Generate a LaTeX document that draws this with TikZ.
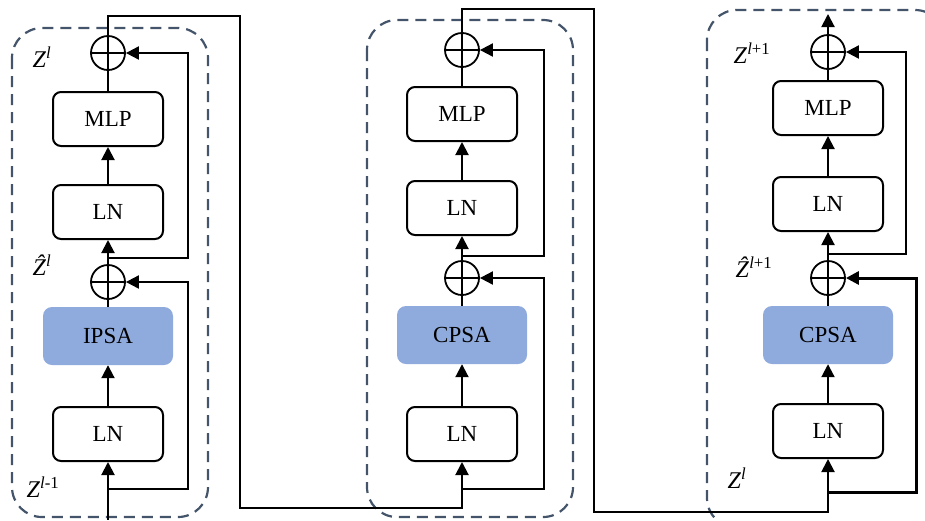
\documentclass[tikz,border=0pt]{standalone}
\usepackage{fontspec}
\setmainfont{Liberation Serif}
\usetikzlibrary{arrows.meta}
\definecolor{attfill}{HTML}{8FAADC}
\definecolor{dashcol}{HTML}{44546A}
\begin{document}
\begin{tikzpicture}[x=1pt,y=-1pt,
  box/.style={draw, line width=2pt, rounded corners=8pt, minimum width=110pt, minimum height=54pt, inner sep=0pt, font=\fontsize{23}{26}\selectfont},
  att/.style={fill=attfill, rounded corners=9pt, minimum width=130pt, minimum height=58pt, inner sep=0pt, font=\fontsize{23}{26}\selectfont},
  add/.style={draw, circle, line width=1.8pt, minimum size=34pt, inner sep=0pt,
    path picture={\draw[line width=1.8pt] (path picture bounding box.north) -- (path picture bounding box.south)
      (path picture bounding box.west) -- (path picture bounding box.east);}},
  conn/.style={line width=2pt},
  arr/.style={conn, -{Triangle[length=13pt,width=13pt]}},
  grp/.style={draw=dashcol, line width=2.2pt, dash pattern=on 11pt off 7pt, rounded corners=30pt},
  lab/.style={font=\fontsize{24}{26}\selectfont, inner sep=0pt}]
\useasboundingbox (0,0) rectangle (925,520);

% group frames
\draw[grp] (12,28) rectangle (208,517);
\draw[grp] (367,20) rectangle (573,517);
\draw[grp] (707,10) rectangle (945,528);

% ---------- block 1 ----------
\node[add] (a1) at (108,53) {};
\node[box] (m1) at (108,119) {MLP};
\node[box] (l12) at (108,212) {LN};
\node[add] (b1) at (108,282) {};
\node[att] (s1) at (108,336) {IPSA};
\node[box] (l11) at (108,434) {LN};
\coordinate (in1) at (108,520);
\coordinate (r1) at (108,489);
\coordinate (q1) at (108,258);

\draw[arr] (in1) -- (l11);
\draw[arr] (l11) -- (s1);
\draw[conn] (s1) -- (b1);
\draw[arr] (b1) -- (l12);
\draw[arr] (l12) -- (m1);
\draw[conn] (m1) -- (a1);
\draw[arr] (r1) -- (188,489) |- (b1);
\draw[arr] (q1) -- (188,258) |- (a1);

\node[lab] (z1) at (42,57) {\textit{Z}\textsuperscript{\textit{l}}};
\node[lab] (zh1) at (42,265) {\textit{\^{Z}}\textsuperscript{\textit{l}}};
\node[lab] (z0) at (43,487) {\textit{Z}\textsuperscript{\textit{l}-1}};

% ---------- block 2 ----------
\node[add] (a2) at (462,50) {};
\node[box] (m2) at (462,114) {MLP};
\node[box] (l22) at (462,208) {LN};
\node[add] (b2) at (462,278) {};
\node[att] (s2) at (462,335) {CPSA};
\node[box] (l21) at (462,434) {LN};
\coordinate (r2) at (462,489);
\coordinate (q2) at (462,256);

\draw[arr] (a1) -- (108,16) -- (240,16) -- (240,508) -- (462,508) -- (l21);
\draw[arr] (l21) -- (s2);
\draw[conn] (s2) -- (b2);
\draw[arr] (b2) -- (l22);
\draw[arr] (l22) -- (m2);
\draw[conn] (m2) -- (a2);
\draw[arr] (r2) -- (544,489) |- (b2);
\draw[arr] (q2) -- (544,256) |- (a2);

% ---------- block 3 ----------
\node[add] (a3) at (828,52) {};
\node[box] (m3) at (828,108) {MLP};
\node[box] (l32) at (828,204) {LN};
\node[add] (b3) at (828,278) {};
\node[att] (s3) at (828,335) {CPSA};
\node[box] (l31) at (828,431) {LN};
\coordinate (r3) at (828,492);
\coordinate (q3) at (828,254);
\coordinate (out3) at (828,14);

\draw[arr] (a2) -- (462,9) -- (594,9) -- (594,512) -- (828,512) -- (l31);
\draw[arr] (l31) -- (s3);
\draw[conn] (s3) -- (b3);
\draw[arr] (b3) -- (l32);
\draw[arr] (l32) -- (m3);
\draw[conn] (m3) -- (a3);
\draw[arr, line width=3pt] (r3) -- (916,492) |- (b3);
\draw[arr] (q3) -- (906,254) |- (a3);
\draw[arr] (a3) -- (out3);

\node[lab] (z3) at (752,53) {\textit{Z}\textsuperscript{\textit{l}+1}};
\node[lab] (zh3) at (754,267) {\textit{\^{Z}}\textsuperscript{\textit{l}+1}};
\node[lab] (z2) at (737,478) {\textit{Z}\textsuperscript{\textit{l}}};
\end{tikzpicture}
\end{document}
